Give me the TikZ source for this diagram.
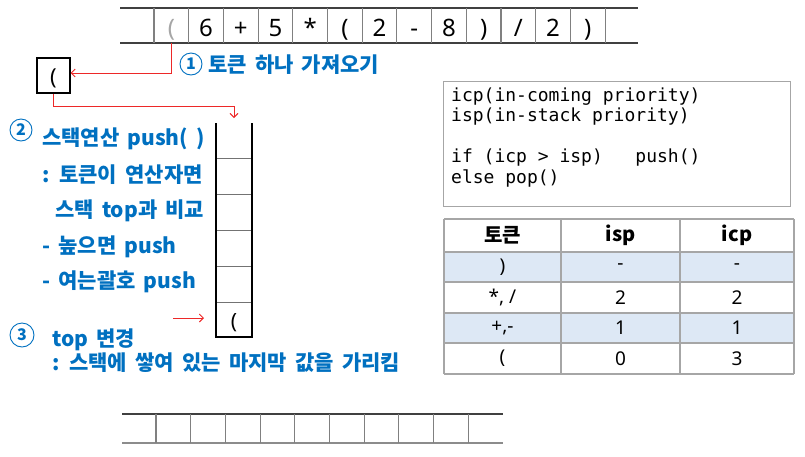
\documentclass[tikz,border=0pt]{standalone}
\usepackage{fontspec}
\setmainfont{Noto Sans CJK KR}
\newfontfamily\lblfont[WordSpace=1.7]{Noto Sans CJK KR}
\newfontfamily\tokfont{Noto Sans}
\newfontfamily\codefont{DejaVu Sans Mono}
\usetikzlibrary{arrows.meta}
\definecolor{kblue}{RGB}{0,112,192}
\definecolor{kred}{RGB}{237,40,40}
\definecolor{tfill}{RGB}{221,232,245}
\definecolor{tline}{RGB}{166,166,166}
\begin{document}
\begin{tikzpicture}[x=1pt,y=-1pt,
  lbl/.style={anchor=base west, inner sep=0, text=kblue, font=\lblfont\fontsize{21}{25}\selectfont\bfseries},
  num/.style={circle, draw=kblue, line width=0.9pt, inner sep=0, minimum size=22pt, text=kblue, font=\lblfont\fontsize{16}{16}\selectfont\bfseries},
  redarrow/.style={draw=kred, line width=0.9pt, -{Straight Barb[length=4pt,width=8pt]}},
  tok/.style={inner sep=0, minimum width=34.7pt, minimum height=35pt, text height=25pt, text depth=3pt, font=\tokfont\fontsize{24}{24}\selectfont},
  hline/.style={draw=black!75, line width=1.2pt},
  vline/.style={draw=black!50, line width=1.1pt},
  code/.style={anchor=base west, inner sep=0, font=\codefont\fontsize{18}{20}\selectfont},
  thead/.style={inner sep=0, font=\fontsize{20}{20}\selectfont\bfseries},
  tcell/.style={inner sep=0, font=\tokfont\fontsize{19}{19}\selectfont},
  stk/.style={anchor=base, inner sep=0, font=\tokfont\fontsize{21}{21}\selectfont}
]
\useasboundingbox (0,0) rectangle (805,456);

% ---------- top token row ----------
\node[tok] (t0)  at (136.65,25.5) {};
\node[tok, text=black!35] (t1)  at (171.35,25.5) {(};
\node[tok] (t2)  at (206.05,25.5) {6};
\node[tok] (t3)  at (240.75,25.5) {+};
\node[tok] (t4)  at (275.45,25.5) {5};
\node[tok] (t5)  at (310.15,25.5) {*};
\node[tok] (t6)  at (344.85,25.5) {(};
\node[tok] (t7)  at (379.55,25.5) {2};
\node[tok] (t8)  at (414.25,25.5) {-};
\node[tok] (t9)  at (448.95,25.5) {8};
\node[tok] (t10) at (483.65,25.5) {)};
\node[tok] (t11) at (518.35,25.5) {/};
\node[tok] (t12) at (553.05,25.5) {2};
\node[tok] (t13) at (587.75,25.5) {)};
\node[tok] (t14) at (622.45,25.5) {};
\draw[hline] (120,8) -- (638,8);
\draw[hline] (120,43) -- (638,43);
\foreach \k in {0,...,13} \draw[vline] (154+34.7*\k,8) -- (154+34.7*\k,43);

% ---------- fetched token box ----------
\node[draw, line width=1.2pt, minimum width=33pt, minimum height=35pt, inner sep=0] (box) at (53.5,75.5) {};
\node[stk, font=\tokfont\fontsize{22}{22}\selectfont] (boxtok) at (53.5,84) {(};
\draw[redarrow] (t1.south) |- ([yshift=2.5pt]box.east);

% ---------- stack ----------
\draw[line width=2.5pt] (216,123) -- (216,337) -- (252,337) -- (252,123);
\foreach \yy in {158,194,230,266,302} \draw[draw=black!55, line width=1pt] (217.25,\yy) -- (250.75,\yy);
\node[stk] (s6) at (234,328.5) {(};
\coordinate (stacktop) at (234,118);
\draw[redarrow] (box.south) -- ++(0,13) -| (stacktop);
\coordinate (a3s) at (173,318);
\coordinate (a3e) at (204,318);
\draw[redarrow] (a3s) -- (a3e);

% ---------- labels ----------
\node[num] (n1) at (191,64) {1};
\node[lbl] (l1) at (208,72) {토큰 하나 가져오기};
\node[num] (n2) at (21,130) {2};
\node[lbl] (l2a) at (42,145) {스택연산 push( )};
\node[lbl] (l2b) at (42,182) {: 토큰이 연산자면};
\node[lbl] (l2c) at (55,217) {스택 top과 비교};
\node[lbl] (l2d) at (42,253) {- 높으면 push};
\node[lbl] (l2e) at (42,288) {- 여는괄호 push};
\node[num, minimum size=24pt] (n3) at (22,335) {3};
\node[lbl] (l3a) at (52,346) {top 변경};
\node[lbl] (l3b) at (52,370) {: 스택에 쌓여 있는 마지막 값을 가리킴};

% ---------- code box ----------
\node[draw=tline, line width=1.2pt, minimum width=347pt, minimum height=125pt, anchor=north west, inner sep=0] (codebox) at (443,81) {};
\node[code] (c1) at (451,101) {icp(in-coming priority)};
\node[code] (c2) at (451,121.5) {isp(in-stack priority)};
\node[code] (c3) at (451,162.5) {if (icp > isp)\ \ \ push()};
\node[code] (c4) at (451,183) {else pop()};

% ---------- table ----------
\fill[tfill] (444,252) rectangle (794,282);
\fill[tfill] (444,313) rectangle (794,343);
\foreach \yy in {219,252,282,313,343,374} \draw[draw=tline, line width=1.2pt] (444,\yy) -- (794,\yy);
\foreach \xx in {444,561,680,794} \draw[draw=tline, line width=1.2pt] (\xx,219) -- (\xx,374);
\node[thead] (h1) at (502.5,235.5) {토큰};
\node[thead] (h2) at (620.5,235.5) {isp};
\node[thead] (h3) at (737,235.5) {icp};
\node[tcell] (r11) at (502.5,267) {)};
\node[tcell] (r12) at (620.5,267) {-};
\node[tcell] (r13) at (737,267) {-};
\node[tcell] (r21) at (502.5,297.5) {*, /};
\node[tcell] (r22) at (620.5,297.5) {2};
\node[tcell] (r23) at (737,297.5) {2};
\node[tcell] (r31) at (502.5,328) {+,-};
\node[tcell] (r32) at (620.5,328) {1};
\node[tcell] (r33) at (737,328) {1};
\node[tcell] (r41) at (502.5,358.5) {(};
\node[tcell] (r42) at (620.5,358.5) {0};
\node[tcell] (r43) at (737,358.5) {3};

% ---------- bottom empty row ----------
\draw[hline] (122,414) -- (503,414);
\draw[draw=black!45, line width=1.6pt] (122,443) -- (503,443);
\foreach \k in {0,...,9} \draw[vline] (156+34.7*\k,414) -- (156+34.7*\k,443);
\end{tikzpicture}
\end{document}
